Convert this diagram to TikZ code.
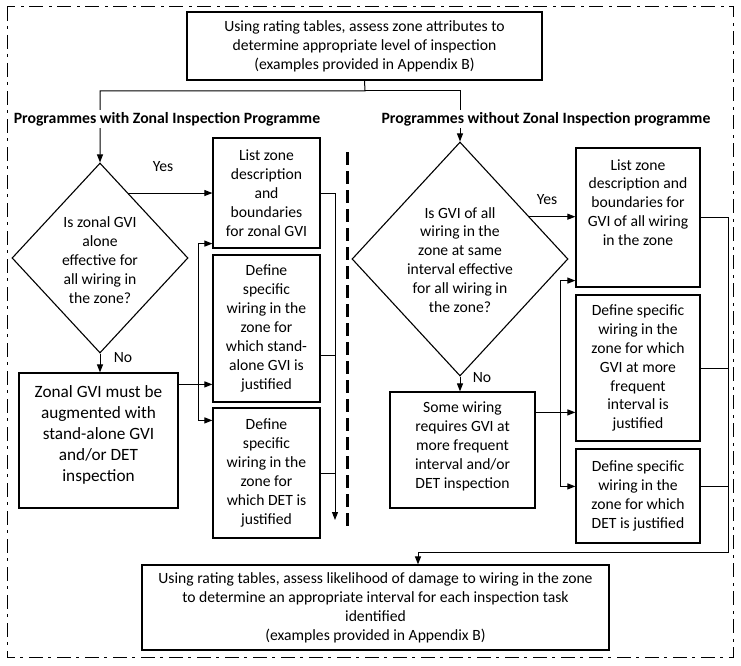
\documentclass[tikz,border=0pt]{standalone}
\usepackage{fontspec}
\setmainfont{Carlito}
\usetikzlibrary{arrows.meta,calc,shapes.geometric}
\begin{document}
\begin{tikzpicture}[x=1bp,y=-1bp,
  every node/.style={font=\fontsize{15.7}{19}\selectfont},
  box/.style={draw, line width=1.2bp, inner sep=0pt, align=center},
  dia/.style={draw, shape=diamond, line width=1.1bp, inner sep=0pt},
  arr/.style={line width=1bp, -{Triangle[length=8bp,width=6bp]}},
  con/.style={line width=1bp},
  head/.style={font=\bfseries\fontsize{15.8}{18}\selectfont, fill=white, inner sep=2bp},
  lbl/.style={inner sep=0pt, align=center},
  frame/.style={line width=1bp, dash pattern=on 14bp off 5bp on 3bp off 6bp},
  divider/.style={line width=3bp, dash pattern=on 13bp off 6bp}]
\useasboundingbox (0,0) rectangle (741,666);
\draw[frame] (7,7) rectangle (733,657);

% boxes
\node[box, minimum width=355bp, minimum height=68bp] (top) at (364.5,46) {Using rating tables, assess zone attributes to\\determine appropriate level of inspection\\(examples provided in Appendix B)};

\node[dia, minimum width=176bp, minimum height=190bp] (ld) at (100,258) {};
\node[lbl] (ldt) at (100,260) {Is zonal GVI\\alone\\effective for\\all wiring in\\the zone?};

\node[box, minimum width=107bp, minimum height=110bp] (L1) at (266.5,193) {List zone\\description\\and\\boundaries\\for zonal GVI};
\node[box, minimum width=107bp, minimum height=147bp] (L2) at (266.5,328.5) {Define\\specific\\wiring in the\\zone for\\which stand-\\alone GVI is\\justified};
\node[box, minimum width=107bp, minimum height=130bp] (L3) at (266.5,473) {Define\\specific\\wiring in the\\zone for\\which DET is\\justified};
\node[box, minimum width=159bp, minimum height=135bp, font=\fontsize{17.3}{21}\selectfont] (L4) at (98.5,440.5) {Zonal GVI must be\\augmented with\\stand-alone GVI\\and/or DET\\inspection\\[-7bp]\mbox{}};

\node[dia, minimum width=216bp, minimum height=234bp] (rd) at (460,259) {};
\node[lbl] (rdt) at (460,260) {Is GVI of all\\wiring in the\\zone at same\\interval effective\\for all wiring in\\the zone?};

\node[box, minimum width=124bp, minimum height=139bp] (R1) at (638,217.5) {List zone\\description and\\boundaries for\\GVI of all wiring\\in the zone\\[11bp]\mbox{}};
\node[box, minimum width=124bp, minimum height=146bp] (R2) at (638,368) {Define specific\\wiring in the\\zone for which\\GVI at more\\frequent\\interval is\\justified};
\node[box, minimum width=124bp, minimum height=94bp] (R3) at (638,496) {Define specific\\wiring in the\\zone for which\\DET is justified};
\node[box, minimum width=145bp, minimum height=116bp] (R4) at (462.5,450) {Some wiring\\requires GVI at\\more frequent\\interval and/or\\DET inspection\\[-9bp]\mbox{}};

\node[box, minimum width=467bp, minimum height=85bp] (bot) at (375.5,607.5) {Using rating tables, assess likelihood of damage to wiring in the zone\\to determine an appropriate interval for each inspection task\\identified\\(examples provided in Appendix B)};

% top split
\coordinate (bus) at (365,91);
\draw[arr] (top.south) -- (bus) -| (ld.north);
\draw[arr] (bus) -| (rd.north);

% left side
\coordinate (ly) at ($(ld.north)!0.32!(ld.east)$);
\draw[arr] (ly) -- (ly -| L1.west);
\draw[arr] (ld.south) -- (ld.south |- L4.north);
\coordinate (l4o) at ($(L4.north east)+(0,12)$);
\coordinate (lbx) at (198,0);
\draw[arr] (l4o) -- (l4o -| L2.west);
\coordinate (l1in) at ($(L1.south west)+(0,-5)$);
\coordinate (l3in) at ($(L3.north west)+(0,13)$);
\draw[arr] (lbx |- l4o) |- (l1in);
\draw[arr] (lbx |- l4o) |- (l3in);

\coordinate (lcx) at (335,520);
\draw[con] (L1.east) -- (L1.east -| lcx);
\coordinate (l2o) at ($(L2.south east)+(0,-47)$);
\draw[con] (l2o) -- (l2o -| lcx);
\draw[con] (L3.east) -- (L3.east -| lcx);
\draw[arr] (L1.east -| lcx) -- (lcx);

% divider
\coordinate (dv1) at (347,152);
\coordinate (dv2) at (347,527);
\draw[divider] (dv1) -- (dv2);

% right side
\coordinate (ry) at ($(rd.north)!0.64!(rd.east)$);
\draw[arr] (ry) -- (ry -| R1.west);
\draw[arr] (rd.south) -- (rd.south |- R4.north);
\coordinate (r4o) at ($(R4.north east)+(0,21)$);
\coordinate (rbx) at (560,0);
\draw[arr] (r4o) -- (r4o -| R2.west);
\coordinate (r1in) at ($(R1.south west)+(0,-7)$);
\coordinate (r3in) at ($(R3.north west)+(0,38)$);
\draw[arr] (rbx |- r4o) |- (r1in);
\draw[arr] (rbx |- r4o) |- (r3in);

\coordinate (rc) at (728,552);
\coordinate (dropx) at (418,552);
\draw[con] (R2.east) -- (R2.east -| rc);
\coordinate (r3o) at ($(R3.north east)+(0,38)$);
\draw[con] (r3o) -- (r3o -| rc);
\draw[arr] (R1.east) -- (R1.east -| rc) -- (rc) -- (dropx) -- (dropx |- bot.north);

% headings and labels
\node[head] (h1) at (167,119) {Programmes with Zonal Inspection Programme};
\node[head] (h2) at (546,119) {Programmes without Zonal Inspection programme};
\node[lbl] (y1) at (163,167) {Yes};
\node[lbl] (n1) at (123,358) {No};
\node[lbl] (y2) at (547,200) {Yes};
\node[lbl] (n2) at (482,378) {No};
\end{tikzpicture}
\end{document}
